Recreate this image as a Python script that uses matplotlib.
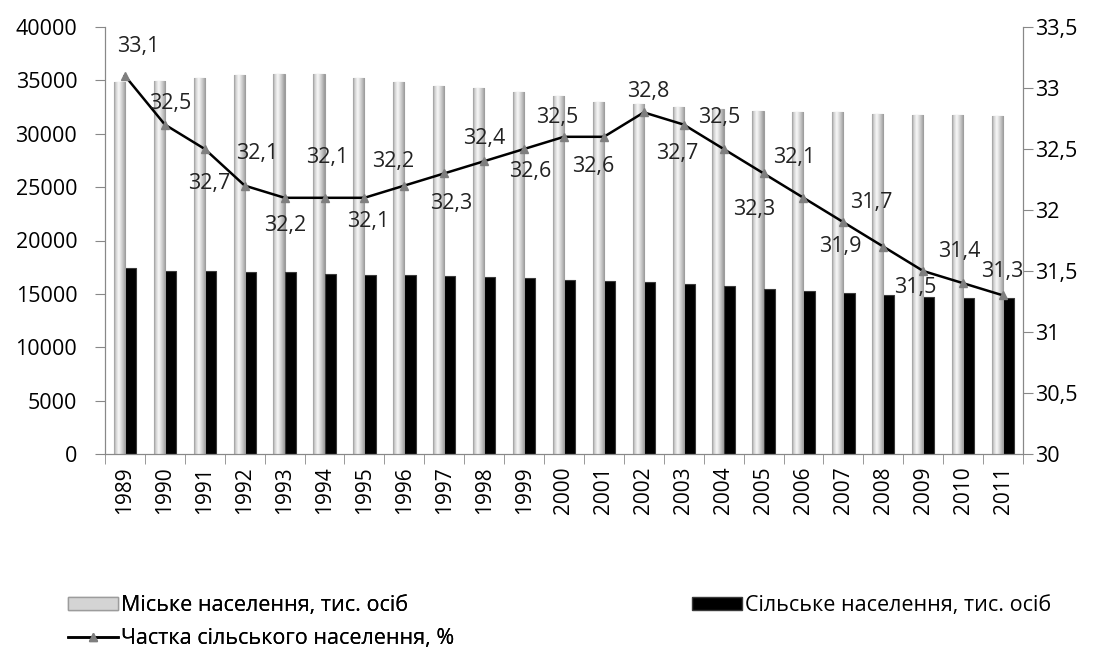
import matplotlib

matplotlib.use("Agg")
import matplotlib.pyplot as plt
import numpy as np
from matplotlib.lines import Line2D
from matplotlib.patches import Patch

plt.rcParams["font.family"] = ["Open Sans", "DejaVu Sans"]

years = [str(y) for y in range(1989, 2012)]
urban = [34820, 34980, 35230, 35510, 35600, 35600, 35230, 34890, 34510, 34260,
         33890, 33510, 33010, 32790, 32480, 32320, 32160, 32010, 32010, 31850,
         31760, 31760, 31630]
rural = [17390, 17170, 17170, 17020, 17020, 16860, 16770, 16770, 16650, 16550,
         16460, 16330, 16180, 16080, 15930, 15710, 15460, 15300, 15080, 14930,
         14680, 14590, 14590]
share = [33.1, 32.7, 32.5, 32.2, 32.1, 32.1, 32.1, 32.2, 32.3, 32.4, 32.5, 32.6,
         32.6, 32.8, 32.7, 32.5, 32.3, 32.1, 31.9, 31.7, 31.5, 31.4, 31.3]
# label offsets (pixels) as placed in the original chart
label_dx = [13, 44, -35, 40, -27, 3, 4, -11, 7, 0, 33, -34, -11, 4, -6, -4, -9,
            -9, -3, -12, -8, -4, -1]
label_dy = [29, -59, 45, -40, 44, 40, -24, 24, -30, 23, 32, -35, -30, 21, -29,
            32, -36, 40, -24, 44, -16, 32, 24]

fig = plt.figure(figsize=(10.98, 6.5), dpi=100)
ax = fig.add_axes([105 / 1098, 1 - 454 / 650, 918 / 1098, 427 / 650])
ax2 = ax.twinx()

x = np.arange(len(years))
w = 0.28
ubars = ax.bar(x - w / 2, urban, w, color="#d4d4d4", edgecolor="#9c9c9c", linewidth=0.8)
ax.bar(x + w / 2, rural, w, color="black", edgecolor="#3a3a3a", linewidth=0.8)

# cylinder-like shading on the light bars
grad = np.interp(np.linspace(0, 1, 32), [0, 0.15, 0.4, 0.7, 1],
                 [0.62, 0.82, 0.97, 0.8, 0.6])
for b in ubars:
    x0, y0 = b.get_x(), b.get_y()
    img = ax.imshow(grad[np.newaxis, :], cmap="gray", vmin=0, vmax=1, aspect="auto",
                    extent=(x0, x0 + b.get_width(), y0, y0 + b.get_height()),
                    zorder=b.get_zorder())
    img.set_clip_path(b)

ax2.plot(x, share, color="black", lw=1.8, marker="^", markersize=6,
         markerfacecolor="#7f7f7f", markeredgecolor="#7f7f7f", zorder=3)
for i, v in enumerate(share):
    ax2.annotate(f"{v:.1f}".replace(".", ","), (x[i], v),
                 xytext=(label_dx[i], label_dy[i]), textcoords="offset pixels",
                 ha="center", va="center", fontsize=15.5, color="#222222")

ax.set_xlim(-0.5, len(years) - 0.5)
ax.set_ylim(0, 40000)
ax.set_yticks(range(0, 40001, 5000))
ax2.set_ylim(30, 33.5)
ax2.set_yticks(np.arange(30, 33.51, 0.5))
ax2.set_yticklabels([f"{t:g}".replace(".", ",") for t in np.arange(30, 33.51, 0.5)])

ax.set_xticks(x)
ax.set_xticklabels(years, rotation=90)
ax.set_xticks(np.arange(-0.5, len(years)), minor=True)
ax.tick_params(axis="x", which="major", length=0, pad=9, labelsize=15)
ax.tick_params(axis="x", which="minor", length=7, color="#888888")
ax.tick_params(axis="y", length=7, color="#888888", labelsize=15.5, pad=13)
ax2.tick_params(axis="y", length=7, color="#888888", labelsize=15.5, pad=2)

for a in (ax, ax2):
    a.spines["top"].set_visible(False)
    for s in ("left", "right", "bottom"):
        a.spines[s].set_color("#888888")

h_urban = Patch(facecolor="#d4d4d4", edgecolor="#9c9c9c")
h_share = Line2D([], [], color="black", lw=1.8, marker="^", markersize=6,
                 markerfacecolor="#7f7f7f", markeredgecolor="#7f7f7f")
h_rural = Patch(facecolor="black", edgecolor="#3a3a3a")
leg_kw = dict(loc="upper left", frameon=False, fontsize=15.5, handlelength=2.3,
              handleheight=0.6, handletextpad=0.15, labelspacing=0.55,
              borderaxespad=0, borderpad=0)
leg1 = fig.legend([h_urban, h_share],
                  ["Міське населення, тис. осіб", "Частка сільського населення, %"],
                  bbox_to_anchor=(68 / 1098, 1 - 595 / 650), **leg_kw)
fig.add_artist(leg1)
fig.legend([h_rural], ["Сільське населення, тис. осіб"],
           bbox_to_anchor=(692 / 1098, 1 - 595 / 650), **leg_kw)

fig.savefig("out.png", dpi=100)
